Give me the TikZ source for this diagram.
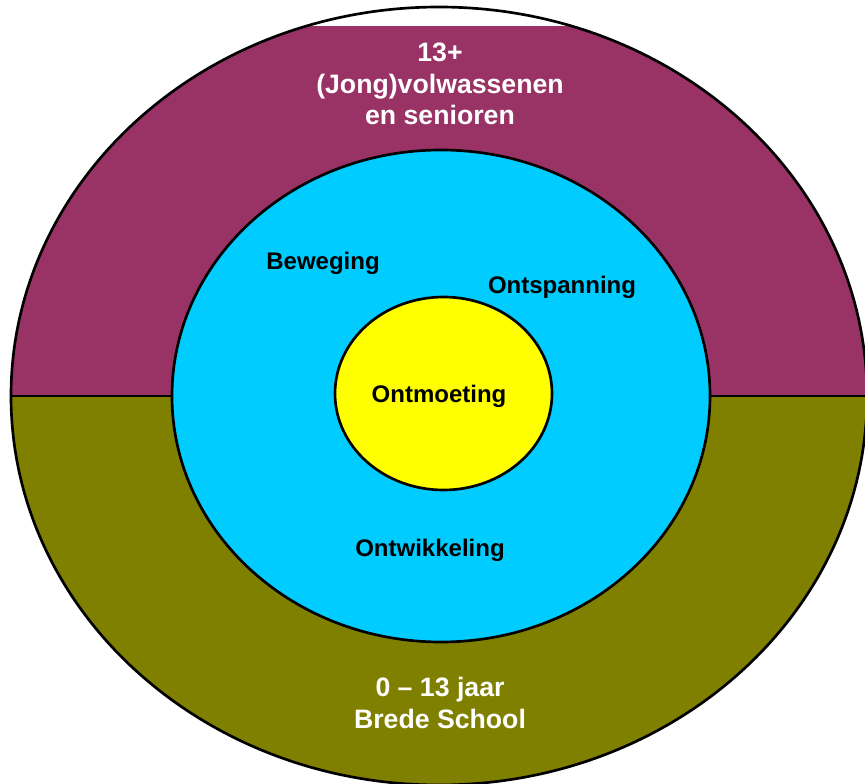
\documentclass[tikz,border=0pt]{standalone}
\usepackage{fontspec}
\setmainfont{Liberation Sans}
\definecolor{ringtop}{HTML}{993366}
\definecolor{ringbottom}{HTML}{808000}
\definecolor{midring}{HTML}{00CCFF}
\definecolor{core}{HTML}{FFFF00}
\tikzset{
  outline/.style={draw=black,line width=2pt},
  whitelabel/.style={text=white,font=\bfseries\fontsize{20}{23.5}\selectfont,align=center},
  blacklabel/.style={text=black,font=\bfseries\fontsize{18}{21}\selectfont}
}

\begin{document}
\begin{tikzpicture}[x=0.75pt,y=-0.75pt]
            \useasboundingbox (0,0) rectangle (865,784);
            \begin{scope}
              \clip (0,27) rectangle (870,396);
              \fill[ringtop] (439,396) ellipse (428 and 389);
            \end{scope}
            \begin{scope}
              \clip (0,396) rectangle (870,790);
              \fill[ringbottom] (439,396) ellipse (428 and 389);
            \end{scope}
            \draw[outline] (439,396) ellipse (428 and 389);
            \draw[outline] (11,396) -- (867,396);
            \filldraw[outline,fill=midring] (441,396) ellipse (269 and 246);
            \filldraw[outline,fill=core] (443.5,393.5) ellipse (108.5 and 96.5);

            \node[whitelabel] (adults) at (440,84) {13+\\(Jong)volwassenen\\en senioren};
            \node[whitelabel] (children) at (440,703) {0 -- 13 jaar\\Brede School};
            \node[blacklabel] (movement) at (323,263) {Beweging};
            \node[blacklabel] (leisure) at (562,287) {Ontspanning};
            \node[blacklabel] (meeting) at (439,396) {Ontmoeting};
            \node[blacklabel] (growth) at (430,550) {Ontwikkeling};
        \end{tikzpicture}
\end{document}
